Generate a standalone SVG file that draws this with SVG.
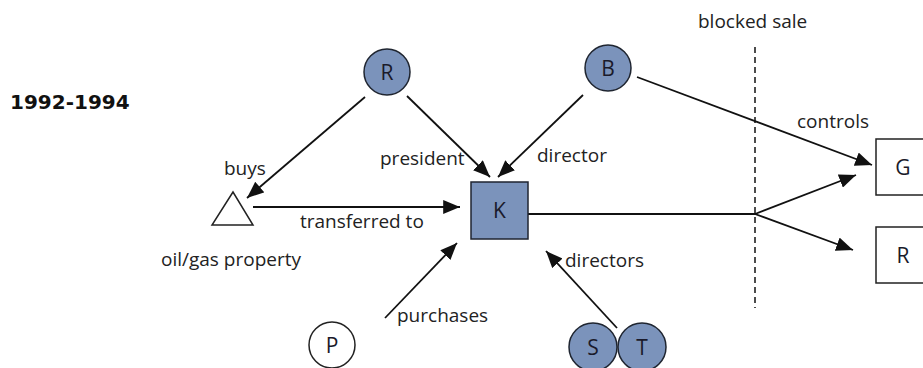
<svg xmlns="http://www.w3.org/2000/svg" width="923" height="368" viewBox="0 0 923 368">
  <defs>
    <marker id="arrow" viewBox="0 0 12 10" refX="12" refY="5" markerWidth="17" markerHeight="14" markerUnits="userSpaceOnUse" orient="auto">
      <path d="M0,0 L12,5 L0,10 z" fill="#111"/>
    </marker>
    <style>
      .lbl { font-family: "Open Sans", "DejaVu Sans", sans-serif; font-size: 19px; fill: #222; }
      .nl { font-family: "Open Sans", "DejaVu Sans", sans-serif; font-size: 21px; fill: #1a1a2a; text-anchor: middle; }
      .ent { fill: #7b93bb; stroke: #1f2530; stroke-width: 1.5; }
      .plain { fill: #fff; stroke: #222; stroke-width: 1.5; }
      .edge { stroke: #111; stroke-width: 1.8; fill: none; }
      .head { stroke: #111; stroke-width: 1.8; fill: none; marker-end: url(#arrow); }
    </style>
  </defs>
  <rect width="923" height="368" fill="#fff"/>

  <text x="10" y="109" style="font-family:'DejaVu Sans',sans-serif;font-weight:bold;font-size:20px;fill:#111">1992-1994</text>

  <!-- connectors -->
  <g id="connectors">
    <line class="edge" x1="755" y1="47" x2="755" y2="308" stroke-dasharray="6,4" style="stroke-width:1.5"/>
    <line class="head" x1="365" y1="97" x2="247" y2="198"/>
    <line class="head" x1="407" y1="96" x2="490" y2="177"/>
    <line class="head" x1="583" y1="95" x2="498" y2="177"/>
    <line class="head" x1="253" y1="207" x2="460" y2="207"/>
    <line class="head" x1="637" y1="77" x2="872" y2="165"/>
    <line class="edge" x1="528" y1="214" x2="755" y2="214"/>
    <line class="head" x1="755" y1="214" x2="856" y2="175"/>
    <line class="head" x1="755" y1="214" x2="853" y2="250"/>
    <line class="head" x1="385" y1="318" x2="457" y2="243"/>
    <line class="head" x1="617" y1="328" x2="546" y2="251"/>
  </g>

  <!-- edge labels -->
  <g id="labels">
    <text class="lbl" x="224" y="175">buys</text>
    <text class="lbl" x="380" y="165">president</text>
    <text class="lbl" x="537" y="162">director</text>
    <text class="lbl" x="300" y="228">transferred to</text>
    <text class="lbl" x="797" y="128">controls</text>
    <text class="lbl" x="698" y="28">blocked sale</text>
    <text class="lbl" x="565" y="267">directors</text>
    <text class="lbl" x="397" y="322">purchases</text>
    <text class="lbl" x="161" y="266">oil/gas property</text>
  </g>

  <!-- nodes -->
  <g id="node-R-person">
    <circle class="ent" cx="387" cy="72" r="23"/>
    <text class="nl" x="387" y="79.5">R</text>
  </g>
  <g id="node-B">
    <circle class="ent" cx="608" cy="68" r="23"/>
    <text class="nl" x="608" y="75.5">B</text>
  </g>
  <g id="node-property">
    <polygon class="plain" points="233,192 212,225 253,225"/>
  </g>
  <g id="node-K">
    <rect class="ent" x="471" y="182" width="57" height="57"/>
    <text class="nl" x="499.5" y="218">K</text>
  </g>
  <g id="node-G">
    <rect class="plain" x="876" y="139" width="60" height="56"/>
    <text class="nl" x="903" y="175">G</text>
  </g>
  <g id="node-R-company">
    <rect class="plain" x="876" y="227" width="60" height="56"/>
    <text class="nl" x="903" y="263">R</text>
  </g>
  <g id="node-P">
    <circle class="plain" cx="332" cy="345" r="23"/>
    <text class="nl" x="332" y="352.5">P</text>
  </g>
  <g id="node-S">
    <circle class="ent" cx="593" cy="347" r="24"/>
    <text class="nl" x="593" y="354.5">S</text>
  </g>
  <g id="node-T">
    <circle class="ent" cx="642" cy="347" r="24"/>
    <text class="nl" x="642" y="354.5">T</text>
  </g>
</svg>
